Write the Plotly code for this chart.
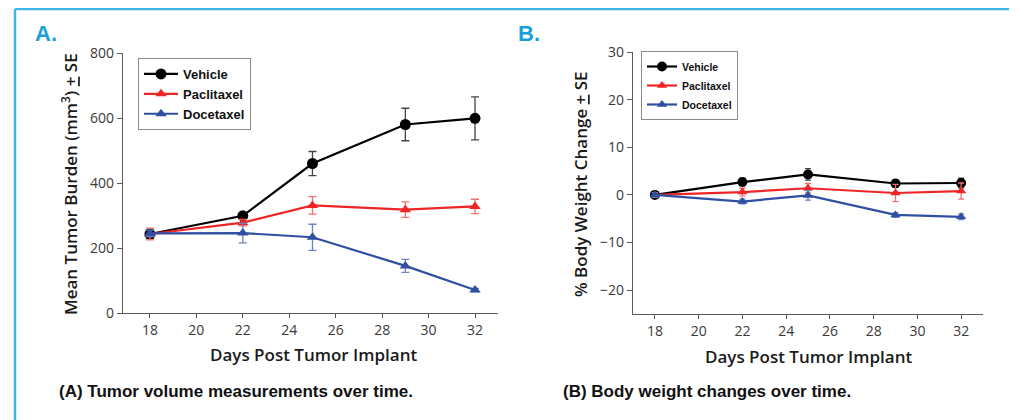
import plotly.graph_objects as go

W, H = 1017, 420
OFF = 8  # page body margin offset

days = [18, 22, 25, 29, 32]
series_names = ["Vehicle", "Paclitaxel", "Docetaxel"]

# Panel A: tumor volume (mm^3)
tumor_vehicle = [243, 299, 460, 580, 599]
tumor_vehicle_se = [14, 10, 37, 50, 66]
tumor_paclitaxel = [243, 278, 331, 318, 328]
tumor_paclitaxel_se = [18, 10, 27, 24, 22]
tumor_docetaxel = [245, 246, 233, 145, 71]
tumor_docetaxel_se = [10, 30, 40, 20, 5]

# Panel B: % body weight change
bw_vehicle = [0.0, 2.7, 4.3, 2.4, 2.5]
bw_vehicle_se = [0.5, 0.8, 1.2, 0.8, 1.0]
bw_paclitaxel = [0.0, 0.6, 1.4, 0.4, 0.8]
bw_paclitaxel_se = [0.5, 0.8, 1.0, 1.8, 1.7]
bw_docetaxel = [0.0, -1.4, -0.1, -4.2, -4.6]
bw_docetaxel_se = [0.5, 0.5, 1.0, 0.5, 0.6]

x_ticks = [18, 20, 22, 24, 26, 28, 30, 32]
yA_ticks = [0, 200, 400, 600, 800]
yB_ticks = [-20, -10, 0, 10, 20, 30]

line_colors = ["#000000", "#ee2526", "#2f4fa2"]
err_colors = ["#444444", "#f07070", "#6d82c4"]
symbols = ["circle", "triangle-up", "triangle-up"]

def px(x):
    return (x - OFF) / W

def py(y):
    return 1 - (y - OFF) / H

fig = go.Figure()

A_vals = [(tumor_vehicle, tumor_vehicle_se), (tumor_paclitaxel, tumor_paclitaxel_se), (tumor_docetaxel, tumor_docetaxel_se)]
B_vals = [(bw_vehicle, bw_vehicle_se), (bw_paclitaxel, bw_paclitaxel_se), (bw_docetaxel, bw_docetaxel_se)]

for i, name in enumerate(series_names):
    v, se = A_vals[i]
    fig.add_trace(go.Scatter(
        x=days, y=v, name=name, mode="lines+markers",
        xaxis="x", yaxis="y", legend="legend",
        line=dict(color=line_colors[i], width=2.2),
        marker=dict(symbol=symbols[i], size=11 if i == 0 else 10, color=line_colors[i]),
        error_y=dict(type="data", array=se, visible=True, color=err_colors[i], thickness=1.3, width=4),
    ))
for i, name in enumerate(series_names):
    v, se = B_vals[i]
    fig.add_trace(go.Scatter(
        x=days, y=v, name=name, mode="lines+markers",
        xaxis="x2", yaxis="y2", legend="legend2",
        line=dict(color=line_colors[i], width=2.2),
        marker=dict(symbol=symbols[i], size=10 if i == 0 else 9, color=line_colors[i]),
        error_y=dict(type="data", array=se, visible=True, color=err_colors[i], thickness=1.3, width=3),
    ))

tick_font = dict(family="Open Sans", size=14, color="#3a3a3a")
axis_line = "#5a5a5a"

common_x = dict(tickvals=x_ticks, ticks="outside", ticklen=4, tickwidth=1.2, tickcolor=axis_line,
                showline=True, linecolor=axis_line, linewidth=1.3, showgrid=False, zeroline=False,
                tickfont=tick_font, fixedrange=True, automargin=False)
common_y = dict(ticks="outside", ticklen=5, tickwidth=1.2, tickcolor=axis_line,
                showline=True, linecolor=axis_line, linewidth=1.3, showgrid=False, zeroline=False,
                tickfont=tick_font, fixedrange=True, automargin=False)
overlay_x = dict(ticks="inside", ticklen=4, tickwidth=1.2, tickcolor=axis_line, showticklabels=False,
                 showline=False, showgrid=False, zeroline=False, fixedrange=True, automargin=False)

xA_dom = [px(123), px(498)]
xB_dom = [px(633), px(983)]
yA_dom = [py(313), py(53)]
yB_dom = [py(314), py(52)]
xA_rng = [16.84, 32.99]
xB_rng = [17.0, 33.0]

fig.update_layout(
    template="none",
    width=W, height=H, autosize=False,
    margin=dict(l=0, r=0, t=0, b=0, pad=0, autoexpand=False),
    paper_bgcolor="white", plot_bgcolor="white",
    xaxis=dict(domain=xA_dom, range=xA_rng, anchor="y", **common_x),
    yaxis=dict(domain=yA_dom, range=[0, 800], tickvals=yA_ticks, anchor="x", **common_y),
    xaxis2=dict(domain=xB_dom, range=xB_rng, anchor="y2", **common_x),
    yaxis2=dict(domain=yB_dom, range=[-25, 30], tickvals=yB_ticks, anchor="x2", **common_y),
    # overlay axes giving the inner half of the crossing x ticks
    xaxis3=dict(overlaying="x", anchor="y", range=xA_rng, tickvals=x_ticks, **overlay_x),
    xaxis4=dict(overlaying="x2", anchor="y2", range=xB_rng, tickvals=x_ticks, **overlay_x),
    legend=dict(x=px(138), y=py(58), xanchor="left", yanchor="top",
                bgcolor="white", bordercolor="#8a8a8a", borderwidth=1,
                font=dict(family="Liberation Sans", size=13, color="#111111", weight="bold"),
                itemwidth=34, tracegroupgap=0),
    legend2=dict(x=px(641), y=py(51), xanchor="left", yanchor="top",
                 bgcolor="white", bordercolor="#8a8a8a", borderwidth=1,
                 font=dict(family="Liberation Sans", size=10.5, color="#111111", weight="bold"),
                 itemwidth=30, tracegroupgap=0),
    showlegend=True,
)

title_font = dict(family="Open Sans", size=17, color="#1a1a1a", weight=600)
cap_font = dict(family="Liberation Sans", size=17, color="#111111", weight="bold")
lab_font = dict(family="Liberation Sans", size=22, color="#1a9fdb", weight="bold")

annos = [
    dict(text="A.", x=px(33), y=py(33), xanchor="left", yanchor="middle", font=lab_font),
    dict(text="B.", x=px(516), y=py(33), xanchor="left", yanchor="middle", font=lab_font),
    dict(text="Days Post Tumor Implant", x=px(313), y=py(354), xanchor="center", yanchor="middle", font=title_font),
    dict(text="Days Post Tumor Implant", x=px(808), y=py(356), xanchor="center", yanchor="middle", font=title_font),
    dict(text="Mean Tumor Burden (mm<sup>3</sup>) <u>+</u> SE", x=px(69), y=py(184), textangle=-90,
         xanchor="center", yanchor="middle", font=title_font),
    dict(text="% Body Weight Change <u>+</u> SE", x=px(580), y=py(184), textangle=-90,
         xanchor="center", yanchor="middle", font=title_font),
    dict(text="(A) Tumor volume measurements over time.", x=px(57), y=py(391), xanchor="left", yanchor="middle", font=cap_font),
    dict(text="(B) Body weight changes over time.", x=px(561), y=py(391), xanchor="left", yanchor="middle", font=cap_font),
]
for a in annos:
    a.update(xref="paper", yref="paper", showarrow=False)
fig.update_layout(annotations=annos)

border = "#3fb5e6"
fig.update_layout(shapes=[
    dict(type="line", xref="paper", yref="paper", x0=px(15), x1=px(15), y0=0, y1=py(9),
         line=dict(color=border, width=2.5)),
    dict(type="line", xref="paper", yref="paper", x0=px(15), x1=1, y0=py(9), y1=py(9),
         line=dict(color=border, width=2.5)),
])

fig.write_html("out.html")
